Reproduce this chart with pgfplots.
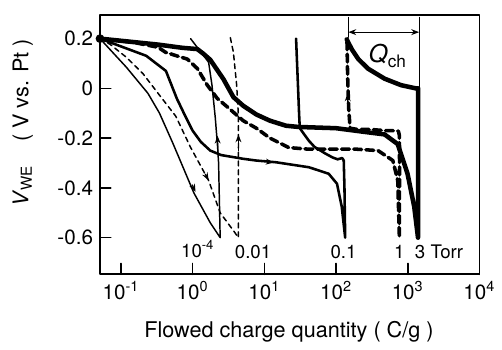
\documentclass[border=0pt]{standalone}
\usepackage{fontspec}
\setmainfont{TeX Gyre Heros}
\usepackage{pgfplots}
\pgfplotsset{compat=1.18}
\usetikzlibrary{arrows.meta}
\begin{document}
\begin{tikzpicture}
\begin{axis}[
 scale only axis, width=193pt, height=132pt,
 xmode=log, xmin=0.051, xmax=10000, ymin=-0.747, ymax=0.296,
 xtick={0.1,1,10,100,1000,10000},
 xticklabels={10\textsuperscript{-1},10\textsuperscript{0},10\textsuperscript{1},10\textsuperscript{2},10\textsuperscript{3},10\textsuperscript{4}},
 ytick={-0.6,-0.4,-0.2,0,0.2}, yticklabels={-0.6,-0.4,-0.2,0,0.2},
 xminorticks=false, yminorticks=false,
 tick align=inside, tick pos=left,
 major tick length=5.5pt,
 tick style={black, line width=0.8pt},
 axis line style={line width=0.8pt},
 ticklabel style={font=\fontsize{10.5}{12}\selectfont},
 clip=false,
 line cap=round, line join=round,
]
% 10^-4 Torr (thin solid)
\addplot[black, line width=0.75pt] coordinates {
(0.051,0.2) (0.119,0.085) (0.238,-0.02) (0.344,-0.099) (0.525,-0.218) (0.614,-0.264) (1.04,-0.42) (1.76,-0.54) (2.42,-0.6)
(2.3,-0.3) (2.23,-0.237) (2.07,-0.119) (1.86,0.013) (1.67,0.105) (0.935,0.2)};
% 0.01 Torr (thin dashed)
\addplot[black, line width=0.75pt, dash pattern=on 2.5pt off 2pt] coordinates {
(0.051,0.2) (0.0706,0.177) (0.119,0.125) (0.203,0.059) (0.344,-0.027) (0.582,-0.112) (0.935,-0.237) (1.67,-0.37) (2.42,-0.5) (3.89,-0.58) (4.33,-0.6)
(4.36,-0.2) (4.33,-0.1) (4.11,0.013) (3.7,0.145) (3.32,0.21)};
% 0.1 Torr (medium solid)
\addplot[black, line width=1.3pt] coordinates {
(0.051,0.2) (0.225,0.131) (0.424,0.07) (0.6,-0.04) (0.8,-0.115) (1.0,-0.17) (1.3,-0.215) (1.76,-0.25) (2.5,-0.268) (5.08,-0.283) (7.74,-0.29) (14.6,-0.297) (41.9,-0.317) (78.9,-0.343) (103,-0.383) (120,-0.475) (134,-0.6)
(131,-0.4) (128,-0.29) (122,-0.28) (105,-0.285) (90,-0.278) (71,-0.262) (50,-0.235) (41.9,-0.211) (35,-0.18) (31.2,-0.16) (30.5,-0.1) (27.7,0.2)};
% 1 Torr (thick dashed)
\addplot[black, line width=1.8pt, dash pattern=on 4pt off 2.2pt] coordinates {
(0.051,0.2) (0.15,0.185) (0.33,0.165) (0.42,0.145) (0.61,0.13) (0.84,0.118) (1.16,0.08) (1.6,0.013) (2.2,-0.04) (3,-0.073) (5.08,-0.13) (7.74,-0.16) (12,-0.2) (22,-0.238) (40,-0.244) (185,-0.244) (385,-0.25) (620,-0.29) (725,-0.37) (764,-0.6)
(768,-0.3) (766,-0.19) (740,-0.172) (650,-0.17) (500,-0.17) (300,-0.165) (200,-0.165) (157,-0.16) (150,-0.08) (145,0.05) (142,0.19)};
% 3 Torr (thick solid)
\addplot[black, line width=2.3pt] coordinates {
(0.051,0.2) (0.33,0.176) (0.72,0.163) (1.16,0.158) (1.4,0.14) (1.76,0.115) (2.69,0.037) (3.7,-0.035) (5.08,-0.07) (7.74,-0.105) (12,-0.13) (20,-0.15) (30,-0.155) (100,-0.16) (251,-0.175) (475,-0.185) (725,-0.224) (993,-0.343) (1230,-0.475) (1390,-0.6)
(1400,-0.3) (1400,0.0) (1297,0.0) (805,0.013) (475,0.039) (280,0.079) (204,0.118) (165,0.158) (141,0.197)};
% start dot
\addplot[only marks, mark=*, mark size=2pt, black] coordinates {(0.051,0.2)};
% direction arrows
\addplot[black, line width=0.6pt, -{Stealth[length=4pt,width=3pt]}] coordinates {(0.986,-0.388) (1.096,-0.416)};
\addplot[black, line width=0.6pt, -{Stealth[length=4pt,width=3pt]}] coordinates {(1.5,-0.345) (1.67,-0.37)};
\addplot[black, line width=0.6pt, -{Stealth[length=4pt,width=3pt]}] coordinates {(2.25,-0.26) (2.22,-0.19)};
\addplot[black, line width=0.6pt, -{Stealth[length=4pt,width=3pt]}] coordinates {(4.35,-0.25) (4.35,-0.185)};
\addplot[black, line width=0.6pt, -{Stealth[length=4pt,width=3pt]}] coordinates {(11,-0.295) (13.5,-0.298)};
\addplot[black, line width=0.6pt, -{Stealth[length=4pt,width=3pt]}] coordinates {(146,-0.07) (145,-0.02)};
% Q_ch annotation
\addplot[black, line width=0.5pt] coordinates {(148.5,0.285) (148.5,0.205)};
\addplot[black, line width=0.5pt] coordinates {(1440,0.285) (1440,0.0)};
\addplot[black, line width=0.5pt, {Stealth[length=4pt,width=3pt]}-{Stealth[length=4pt,width=3pt]}] coordinates {(148.5,0.226) (1440,0.226)};
\node at (axis cs:527,0.131) {\fontsize{12.5}{14}\selectfont\textit{Q}\textsubscript{ch}};
% pressure labels
\node[font=\fontsize{9.5}{11}\selectfont] at (axis cs:1.18,-0.645) {10\textsuperscript{-4}};
\node[font=\fontsize{9.5}{11}\selectfont] at (axis cs:6.96,-0.656) {0.01};
\node[font=\fontsize{9.5}{11}\selectfont] at (axis cs:127,-0.656) {0.1};
\node[font=\fontsize{9.5}{11}\selectfont] at (axis cs:764,-0.656) {1};
\node[font=\fontsize{9.5}{11}\selectfont] at (axis cs:2730,-0.656) {3 Torr};
% axis labels
\node[font=\fontsize{11}{13}\selectfont] at (rel axis cs:0.498,-0.2235) {Flowed charge quantity ( C/g )};
\node[font=\fontsize{11}{13}\selectfont, rotate=90] at (rel axis cs:-0.2035,0.583) {\textit{V}\textsubscript{WE}\hspace{12pt}( V vs. Pt )};
\coordinate (bl) at (rel axis cs:-0.2635,-0.261);
\coordinate (tr) at (rel axis cs:1.037,1.0568);
\end{axis}
\path (bl) rectangle (tr);
\end{tikzpicture}
\end{document}
